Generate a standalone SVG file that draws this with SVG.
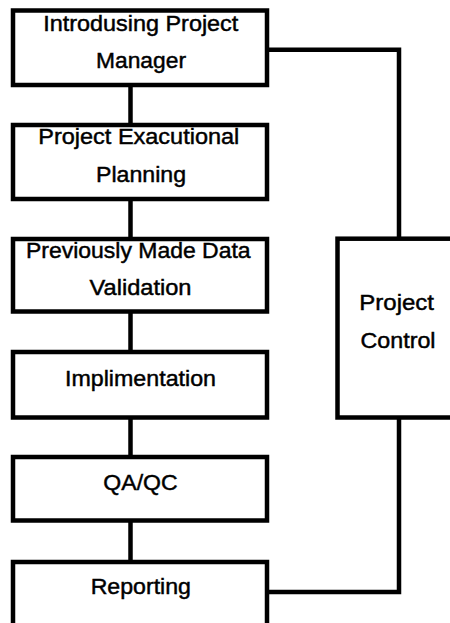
<svg xmlns="http://www.w3.org/2000/svg" width="450" height="623" viewBox="0 0 450 623">
<style>
.box{fill:#fff;stroke:#000;stroke-width:4.5}
.con{fill:none;stroke:#000;stroke-width:4.5}
text{font-family:"Liberation Sans",Arial,sans-serif;font-size:22px;fill:#000;stroke:#000;stroke-width:0.45;text-anchor:middle}
</style>
<rect width="450" height="623" fill="#fff"/>
<g id="connectors">
<line class="con" x1="130.5" y1="85" x2="130.5" y2="125"/>
<line class="con" x1="130.5" y1="199" x2="130.5" y2="239"/>
<line class="con" x1="130.5" y1="311.5" x2="130.5" y2="352"/>
<line class="con" x1="130.5" y1="417.5" x2="130.5" y2="457"/>
<line class="con" x1="130.5" y1="520.5" x2="130.5" y2="562"/>
<polyline class="con" points="267,49.7 399,49.7 399,238.7"/>
<polyline class="con" points="399,417.5 399,592 267,592"/>
</g>
<g id="n1">
<rect class="box" x="13" y="10.5" width="254" height="74.5"/>
<text x="140.8" y="30.7" textLength="195" lengthAdjust="spacingAndGlyphs">Introdusing Project</text>
<text x="141" y="67.7" textLength="90" lengthAdjust="spacingAndGlyphs">Manager</text>
</g>
<g id="n2">
<rect class="box" x="13" y="125" width="254" height="74"/>
<text x="138.8" y="144" textLength="201" lengthAdjust="spacingAndGlyphs">Project Exacutional</text>
<text x="141" y="181.7" textLength="90" lengthAdjust="spacingAndGlyphs">Planning</text>
</g>
<g id="n3">
<rect class="box" x="13" y="239" width="254" height="72.5"/>
<text x="138.3" y="257.7" textLength="224.7" lengthAdjust="spacingAndGlyphs">Previously Made Data</text>
<text x="140.5" y="295" textLength="102" lengthAdjust="spacingAndGlyphs">Validation</text>
</g>
<g id="n4">
<rect class="box" x="13" y="352" width="254" height="65.5"/>
<text x="140.5" y="385.7" textLength="151" lengthAdjust="spacingAndGlyphs">Implimentation</text>
</g>
<g id="n5">
<rect class="box" x="13" y="457" width="254" height="63.5"/>
<text x="140.5" y="490" textLength="74.3" lengthAdjust="spacingAndGlyphs">QA/QC</text>
</g>
<g id="n6">
<rect class="box" x="13" y="562" width="254" height="80"/>
<text x="140.8" y="594.3" textLength="100.3" lengthAdjust="spacingAndGlyphs">Reporting</text>
</g>
<g id="n7">
<rect class="box" x="337.5" y="238.7" width="130" height="178.8"/>
<text x="396.7" y="310" textLength="74.7" lengthAdjust="spacingAndGlyphs">Project</text>
<text x="398" y="347.7" textLength="75" lengthAdjust="spacingAndGlyphs">Control</text>
</g>
</svg>
